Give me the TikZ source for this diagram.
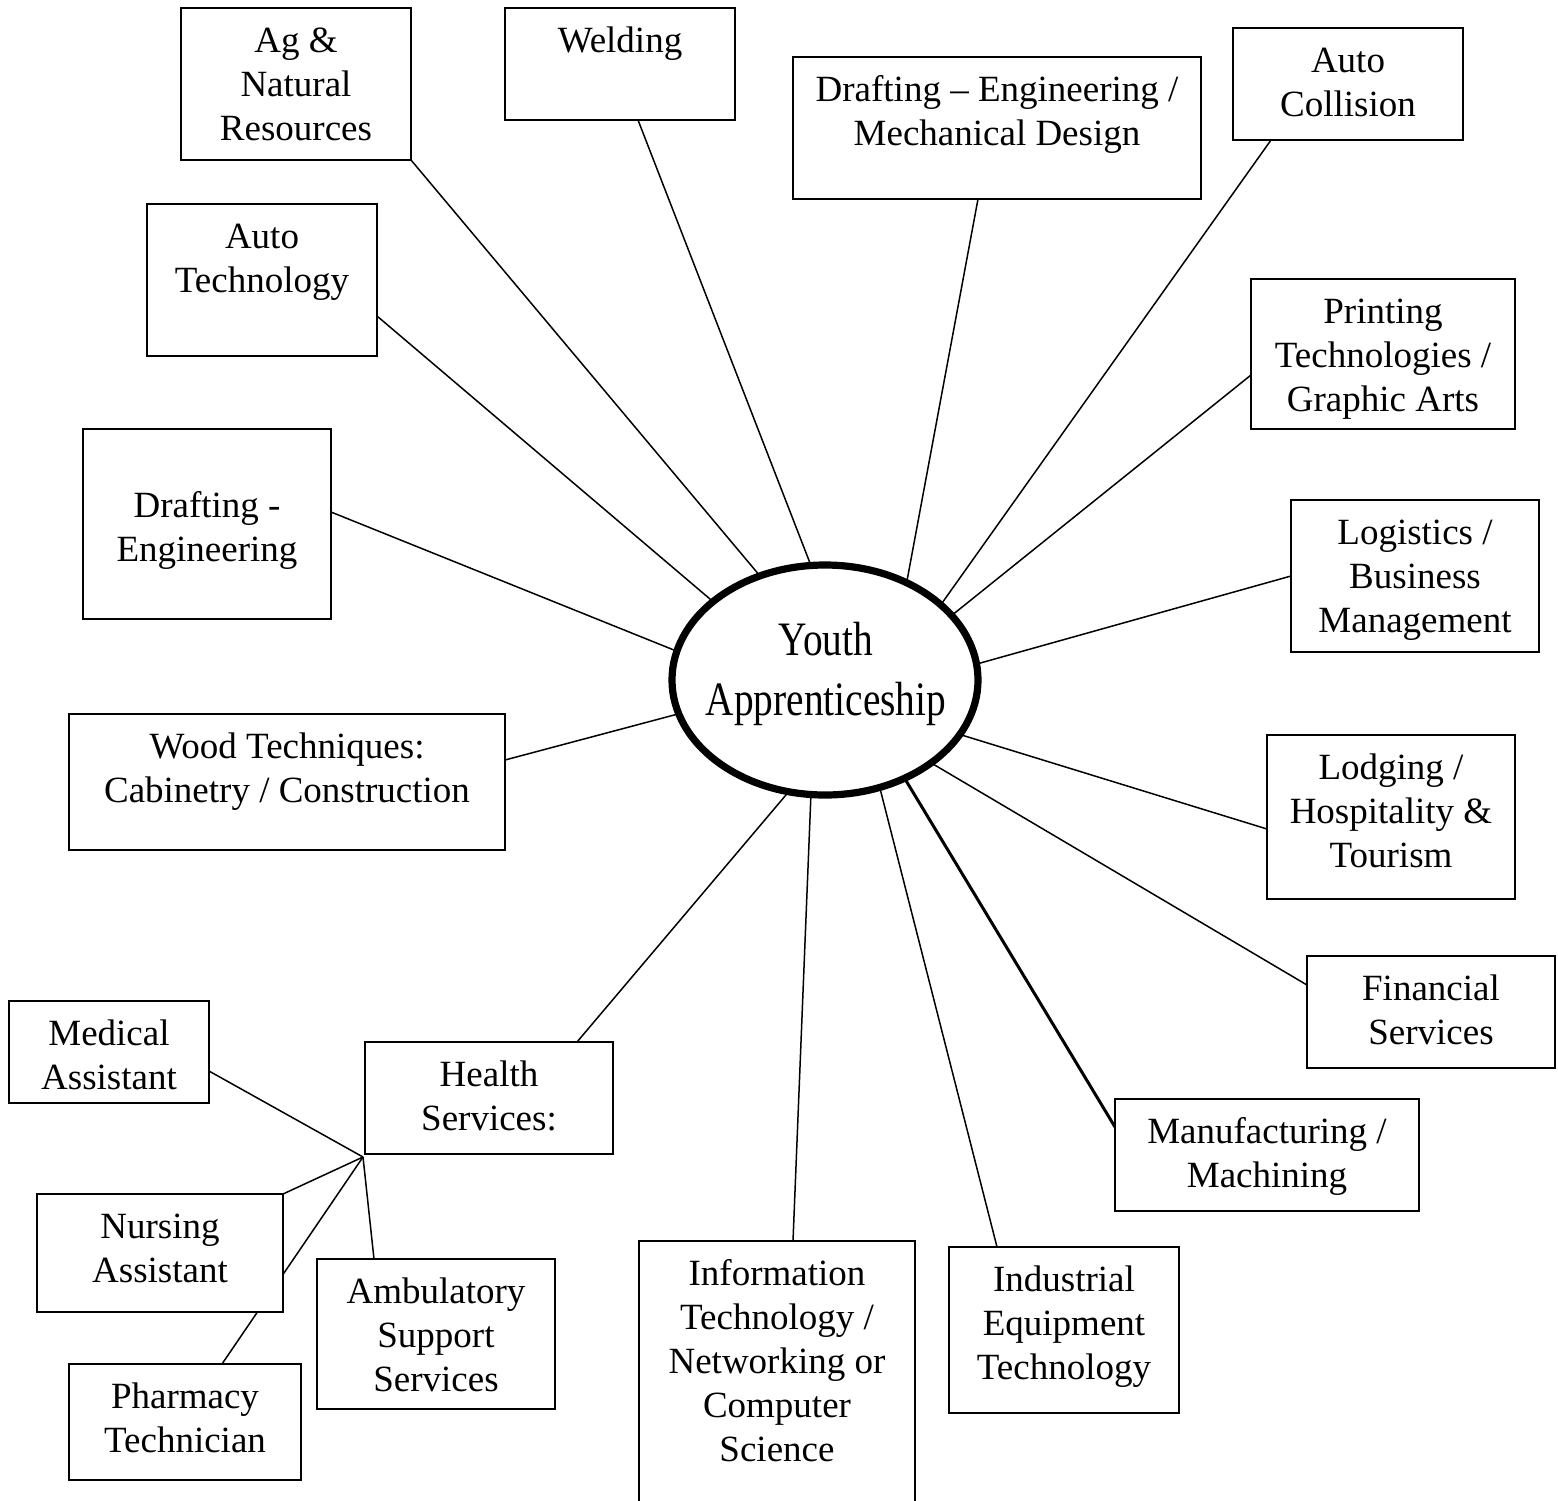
\documentclass[tikz,border=0pt]{standalone}
\usepackage{fontspec}
\setmainfont{Liberation Serif}
\usetikzlibrary{shapes.geometric,backgrounds}
\newcommand\cardbox[7][22pt]{%
  \node[box, minimum width={(#5-#3)/2}, minimum height={(#6-#4)/2}] (#2) at ({(#3+#5)/2},{(#4+#6)/2}) {};
  \node[lbl] (#2-t) at ([yshift=-#1]#2.north) {\begin{tabular}[t]{@{}c@{}}#7\end{tabular}};}
\begin{document}
\begin{tikzpicture}[x=0.5pt,y=-0.5pt,
  box/.style={draw, line width=1pt, fill=white, inner sep=0pt, outer sep=0pt},
  lbl/.style={anchor=base, inner sep=0pt, font=\fontsize{18.5}{22}\selectfont},
  link/.style={line width=0.75pt},
  hubellipse/.style={ellipse, draw, line width=3.6pt, fill=white, inner sep=0pt, outer sep=0pt, minimum width=153pt, minimum height=115pt}]
\useasboundingbox (0,0) rectangle (1558,1500);
\clip (0,0) rectangle (1558,1500);

% central ellipse
\node[hubellipse] (ya) at (825,680) {};
\node[anchor=base, inner sep=0pt] (ya-t) at (826,655)
  {\scalebox{0.82}[1]{\fontsize{24}{30}\selectfont\begin{tabular}[t]{@{}c@{}}Youth\\Apprenticeship\end{tabular}}};

% boxes
\cardbox{ag}{181}{8}{411}{160}{Ag \&\\Natural\\Resources}
\cardbox{weld}{505}{8}{735}{120}{Welding}
\cardbox{dme}{793}{57}{1201}{199}{Drafting – Engineering /\\Mechanical Design}
\cardbox{ac}{1233}{28}{1463}{140}{Auto\\Collision}
\cardbox{at}{147}{204}{377}{356}{Auto\\Technology}
\cardbox{print}{1251}{279}{1515}{429}{Printing\\Technologies /\\Graphic Arts}
\cardbox[44pt]{de}{83}{429}{331}{619}{Drafting -\\Engineering}
\cardbox{log}{1291}{500}{1539}{652}{Logistics /\\Business\\Management}
\cardbox{wood}{69}{714}{505}{850}{Wood Techniques:\\Cabinetry / Construction}
\cardbox{lodg}{1267}{735}{1515}{899}{Lodging /\\Hospitality \&\\Tourism}
\cardbox{fin}{1307}{956}{1555}{1068}{Financial\\Services}
\cardbox{hs}{365}{1042}{613}{1154}{Health\\Services:}
\cardbox{med}{9}{1001}{209}{1103}{Medical\\Assistant}
\cardbox{nurse}{37}{1194}{283}{1312}{Nursing\\Assistant}
\cardbox{amb}{317}{1259}{555}{1409}{Ambulatory\\Support\\Services}
\cardbox{pharm}{69}{1364}{301}{1480}{Pharmacy\\Technician}
\cardbox{it}{639}{1241}{915}{1530}{Information\\Technology /\\Networking or\\Computer\\Science}
\cardbox{ind}{949}{1247}{1179}{1413}{Industrial\\Equipment\\Technology}
\cardbox{man}{1115}{1099}{1419}{1211}{Manufacturing /\\Machining}

\coordinate (hub) at ([xshift=-1pt,yshift=-1.5pt]hs.south west);

\begin{scope}[on background layer]
\draw[link] (ag.south east) -- (ya.122.7);
\draw[link] ([xshift=9pt]weld.south) -- (ya.97.7);
\draw[link] ([xshift=-9.5pt]dme.south) -- (ya.50.9);
\draw[link] ([xshift=-38.5pt]ac.south) -- (ya.33.1);
\draw[link] ([yshift=-18pt]at.east) -- (ya.145);
\draw[link] ([yshift=-10.5pt]print.west) -- (ya.27.4);
\draw[link] ([yshift=6pt]de.east) -- (ya.169.6);
\draw[link] (log.west) -- (ya.6.4);
\draw[link] ([yshift=11pt]wood.east) -- (ya.193.5);
\draw[link] ([yshift=-6pt]lodg.west) -- (ya.338.3);
\draw[link] ([yshift=13.5pt]fin.west) -- (ya.322);
\draw[link, line width=1.5pt] ([yshift=14pt]man.west) -- (ya.309.4);
\draw[link] ([xshift=-33.5pt]ind.north) -- (ya.297.6);
\draw[link] ([xshift=8pt]it.north) -- (ya.263.8);
\draw[link] ([xshift=44pt]hs.north) -- (ya.252);
\draw[link] ([yshift=-9.5pt]med.east) -- (hub);
\draw[link] (nurse.north east) -- (hub);
\draw[link] ([xshift=18.5pt]pharm.north) -- (hub);
\draw[link] ([xshift=-31pt]amb.north) -- (hub);
\end{scope}
\end{tikzpicture}
\end{document}
